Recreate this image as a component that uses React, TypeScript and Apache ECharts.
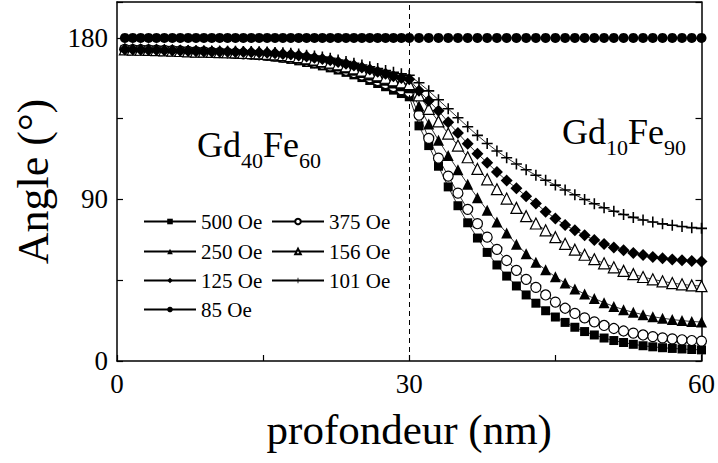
import React, { useEffect, useRef } from 'react';
import * as echarts from 'echarts';

// depth (nm): Gd40Fe60 layer sampled finely, Gd10Fe90 layer every 1 nm
const depth = [
  0.81, 1.62, 2.43, 3.24, 4.05, 4.86, 5.68, 6.49, 7.3, 8.11, 8.92, 9.73, 10.54, 11.35, 12.16, 12.97, 13.78, 14.59,
  15.41, 16.22, 17.03, 17.84, 18.65, 19.46, 20.27, 21.08, 21.89, 22.7, 23.51, 24.32, 25.14, 25.95, 26.76, 27.57,
  28.38, 29.19, 30.0,
  31, 32, 33, 34, 35, 36, 37, 38, 39, 40, 41, 42, 43, 44, 45, 46, 47, 48, 49, 50, 51, 52, 53, 54, 55, 56, 57, 58, 59, 60,
];

const angle500 = [
  173.6, 173.5, 173.4, 173.3, 173.2, 173.1, 172.9, 172.7, 172.5, 172.3, 172.1, 171.8, 171.6, 171.4, 171.1, 170.8, 170.5,
  170.2, 169.8, 169.3, 168.7, 168.0, 167.2, 166.3, 165.4, 164.4, 163.3, 162.1, 160.8, 159.4, 157.9, 156.3, 154.6, 152.8,
  150.9, 149.0, 147.2,
  131, 120, 108.5, 97, 86.5, 77, 68.5, 60.5, 53.5, 47.3, 41.8, 36.8, 32.2, 28, 24.5, 21.5, 18.8, 16.4, 14.5, 12.8, 11.4,
  10.3, 9.3, 8.5, 7.9, 7.4, 7.0, 6.7, 6.4, 6.2,
];
const angle375 = [
  173.6, 173.5, 173.4, 173.3, 173.2, 173.1, 172.9, 172.7, 172.5, 172.3, 172.2, 171.9, 171.8, 171.6, 171.4, 171.1, 170.9,
  170.6, 170.3, 169.8, 169.3, 168.7, 168.0, 167.1, 166.3, 165.4, 164.4, 163.2, 162.0, 160.7, 159.3, 157.8, 156.3, 154.6,
  152.9, 151.2, 149.7,
  137, 124, 113, 103, 93.5, 84.5, 76.5, 69, 62.2, 56, 50.5, 45.5, 41, 36.8, 32.8, 29.4, 26.5, 24, 21.8, 19.8, 18.1, 16.7,
  15.5, 14.5, 13.6, 12.9, 12.3, 11.8, 11.4, 11.1,
];
const angle250 = [
  173.6, 173.5, 173.4, 173.3, 173.2, 173.1, 172.9, 172.7, 172.5, 172.3, 172.3, 172.1, 172.0, 171.9, 171.7, 171.5, 171.3,
  171.1, 170.8, 170.4, 169.9, 169.4, 168.7, 168.0, 167.2, 166.4, 165.4, 164.4, 163.2, 162.0, 160.7, 159.4, 157.9, 156.4,
  154.9, 153.4, 152.2,
  142, 132, 123, 114.5, 106.5, 98.5, 91, 84, 77.5, 71.3, 65, 59.8, 55, 50.8, 46.9, 43.4, 40.1, 37.3, 34.8, 32.5, 30.4,
  28.6, 27.1, 25.8, 24.7, 23.8, 23.1, 22.5, 22.0, 21.7,
];
const angle156 = [
  173.6, 173.5, 173.4, 173.3, 173.2, 173.1, 172.9, 172.7, 172.5, 172.3, 172.3, 172.2, 172.1, 172.0, 171.9, 171.7, 171.6,
  171.4, 171.1, 170.8, 170.4, 169.9, 169.3, 168.6, 167.9, 167.1, 166.2, 165.3, 164.2, 163.0, 161.8, 160.6, 159.2, 157.8,
  156.4, 155.2, 154.2,
  148, 140.5, 133.5, 126.7, 120, 113.5, 107, 101.2, 95.7, 90.5, 85.3, 80.7, 76.6, 72.8, 69, 65.3, 62, 59.2, 56.7, 54.4,
  52.2, 50.2, 48.4, 46.8, 45.5, 44.4, 43.4, 42.7, 42.1, 41.7,
];
const angle125 = [
  173.6, 173.5, 173.4, 173.3, 173.2, 173.1, 173.0, 172.8, 172.7, 172.5, 172.4, 172.3, 172.3, 172.3, 172.2, 172.1, 172.0,
  171.9, 171.7, 171.4, 171.1, 170.7, 170.2, 169.6, 169.0, 168.3, 167.5, 166.6, 165.6, 164.6, 163.5, 162.4, 161.2, 160.0,
  158.7, 157.7, 157.0,
  150.5, 145, 139.4, 133, 127, 121, 115.5, 110.5, 105.3, 100.5, 96.3, 91.8, 87.8, 83.2, 79.4, 75.8, 72.8, 70, 67.4, 65.2,
  63.3, 61.7, 60.2, 59, 58, 57.2, 56.6, 56.1, 55.7, 55.5,
];
const angle101 = [
  173.6, 173.5, 173.4, 173.3, 173.3, 173.2, 173.1, 173.0, 172.9, 172.8, 172.7, 172.6, 172.6, 172.5, 172.5, 172.4, 172.4,
  172.3, 172.2, 171.9, 171.7, 171.4, 171.0, 170.4, 169.9, 169.3, 168.6, 167.7, 166.8, 165.9, 164.9, 163.9, 162.9, 161.8,
  160.8, 160.0, 159.2,
  155, 150.5, 145.5, 140.5, 135.5, 130.5, 125.7, 121.2, 117, 113.2, 109.7, 106.5, 103.5, 100.7, 98, 95.3, 92.6, 90, 87.6,
  85.4, 83.4, 81.6, 80, 78.6, 77.4, 76.4, 75.6, 74.9, 74.3, 73.9,
];
const angle85 = [
  180, 180, 180, 180, 180, 180, 180, 180, 180, 180, 180, 180, 180, 180, 180, 180, 180, 180, 180, 180, 180, 180, 180,
  180, 180, 180, 180, 180, 180, 180, 180, 180, 180, 180, 180, 180, 180,
  180, 180, 180, 180, 180, 180, 180, 180, 180, 180, 180, 180, 180, 180, 180, 180, 180, 180, 180, 180, 180, 180, 180,
  180, 180, 180, 180, 180, 180, 180,
];

const seriesNames = ['500 Oe', '375 Oe', '250 Oe', '156 Oe', '125 Oe', '101 Oe', '85 Oe'];
const xTickLabels = [0, 30, 60];
const yTickLabels = [0, 90, 180];
const layerLabels = [
  { base: 'Gd', a: '40', b: 'Fe', c: '60' },
  { base: 'Gd', a: '10', b: 'Fe', c: '90' },
];

const FONT = '"Liberation Serif", "Times New Roman", serif';
const PLUS = 'path://M6,0h2v6h6v2h-6v6h-2v-6h-6v-2h6z';

export default function App() {
  const ref = useRef<HTMLDivElement>(null);

  useEffect(() => {
    const chart = echarts.init(ref.current!, null, { renderer: 'svg' });

    const mk = (name: string, values: number[], symbol: string, size: number, filled: boolean, z: number) => ({
      name,
      type: 'line',
      data: depth.map((d, i) => [d, values[i]]),
      symbol,
      symbolSize: size,
      showSymbol: true,
      z,
      lineStyle: { color: '#000', width: 0.8 },
      itemStyle: filled
        ? { color: '#000', borderWidth: 0 }
        : { color: '#fff', borderColor: '#000', borderWidth: 1.2 },
      emphasis: { disabled: true },
    });

    const series: any[] = [
      mk(seriesNames[0], angle500, 'rect', 9, true, 2),
      mk(seriesNames[1], angle375, 'circle', 10, false, 3),
      mk(seriesNames[2], angle250, 'triangle', 11, true, 4),
      mk(seriesNames[3], angle156, 'triangle', 11, false, 5),
      mk(seriesNames[4], angle125, 'diamond', 12, true, 6),
      mk(seriesNames[5], angle101, PLUS, 11, true, 7),
      mk(seriesNames[6], angle85, 'circle', 10, true, 8),
    ];
    series[0].markLine = {
      silent: true,
      symbol: ['none', 'none'],
      label: { show: false },
      lineStyle: { type: [5, 4], color: '#000', width: 1 },
      data: [{ xAxis: 30 }],
    };

    const legendPos = [
      [143, 211], [271, 211],
      [143, 241], [271, 241],
      [143, 270], [271, 270],
      [143, 299],
    ];
    const legends = seriesNames.map((n, i) => ({
      data: [n],
      left: legendPos[i][0],
      top: legendPos[i][1],
      padding: 0,
      itemWidth: 52,
      itemHeight: 7,
      itemGap: 0,
      selectedMode: false,
      textStyle: { fontFamily: FONT, fontSize: 21, color: '#000' },
    }));

    const mkLayer = (l: any, left: number, top: number) => ({
      type: 'text',
      left,
      top,
      silent: true,
      style: {
        text: `{m|${l.base}}{s|${l.a}}{m|${l.b}}{s|${l.c}}`,
        fill: '#000',
        rich: {
          m: { fontFamily: FONT, fontSize: 36, verticalAlign: 'top', fill: '#000' },
          s: { fontFamily: FONT, fontSize: 22, verticalAlign: 'top', padding: [22, 0, 0, 0], fill: '#000' },
        },
      },
    });

    chart.setOption({
      animation: false,
      backgroundColor: '#fff',
      grid: { left: 117, right: 12, top: 2, bottom: 102, containLabel: false },
      legend: legends,
      xAxis: [
        {
          type: 'value',
          min: 0,
          max: 60,
          interval: 15,
          axisLine: { show: true, onZero: false, lineStyle: { color: '#000', width: 1.5 } },
          axisTick: { show: true, inside: true, length: 6, lineStyle: { color: '#000', width: 1.2 } },
          axisLabel: {
            formatter: (v: number) => (xTickLabels.includes(v) ? String(v) : ''),
            fontFamily: FONT,
            fontSize: 27,
            color: '#000',
            margin: 9,
          },
          splitLine: { show: false },
          name: 'profondeur (nm)',
          nameLocation: 'middle',
          nameGap: 47,
          nameTextStyle: { fontFamily: FONT, fontSize: 43, color: '#000' },
        },
        {
          type: 'value',
          position: 'top',
          min: 0,
          max: 60,
          interval: 15,
          axisLine: { show: true, onZero: false, lineStyle: { color: '#000', width: 1.5 } },
          axisTick: { show: false },
          axisLabel: { show: false },
          splitLine: { show: false },
        },
      ],
      yAxis: [
        {
          type: 'value',
          min: 0,
          max: 200,
          interval: 45,
          axisLine: { show: true, onZero: false, lineStyle: { color: '#000', width: 1.5 } },
          axisTick: { show: true, inside: true, length: 6, lineStyle: { color: '#000', width: 1.2 } },
          axisLabel: {
            formatter: (v: number) => (yTickLabels.includes(v) ? String(v) : ''),
            fontFamily: FONT,
            fontSize: 27,
            color: '#000',
            margin: 9,
          },
          splitLine: { show: false },
          name: 'Angle (°)',
          nameLocation: 'middle',
          nameRotate: 90,
          nameGap: 62,
          nameTextStyle: { fontFamily: FONT, fontSize: 44, color: '#000' },
        },
        {
          type: 'value',
          position: 'right',
          min: 0,
          max: 200,
          interval: 45,
          axisLine: { show: true, onZero: false, lineStyle: { color: '#000', width: 1.5 } },
          axisTick: { show: true, inside: true, length: 6, lineStyle: { color: '#000', width: 1.2 } },
          axisLabel: { show: false },
          splitLine: { show: false },
        },
      ],
      graphic: [mkLayer(layerLabels[0], 197, 127), mkLayer(layerLabels[1], 562, 114)],
      series,
    });

    return () => chart.dispose();
  }, []);

  return (
    <div
      ref={ref}
      style={{ position: 'fixed', left: 0, top: 0, width: 718, height: 463, background: '#fff' }}
    />
  );
}
